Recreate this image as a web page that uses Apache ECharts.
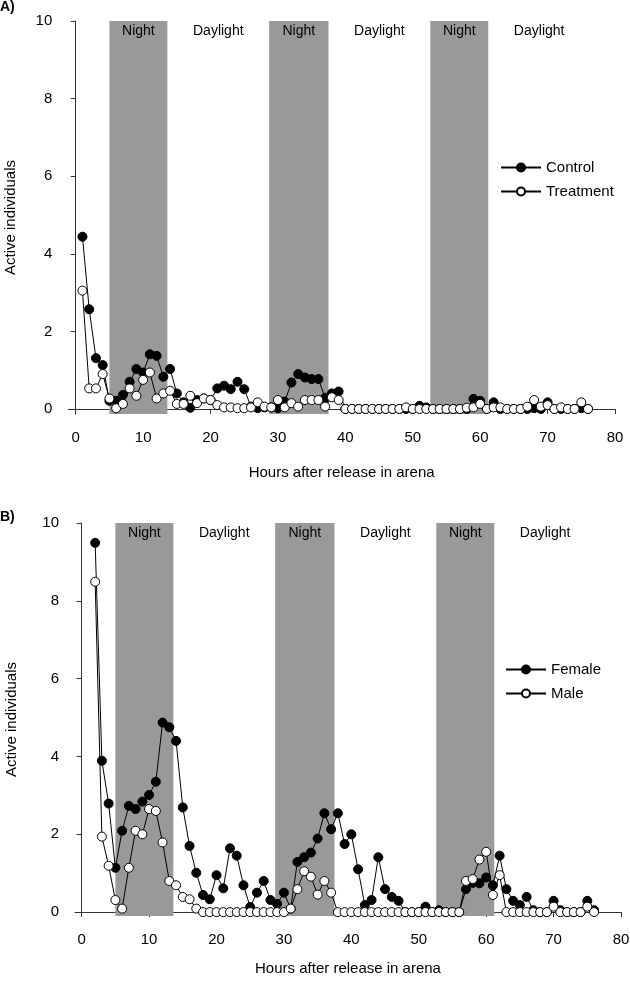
<!DOCTYPE html>
<html>
<head>
<meta charset="utf-8">
<script src="https://cdn.jsdelivr.net/npm/echarts@6/dist/echarts.min.js"></script>
<style>
html,body{margin:0;padding:0;background:#fff;}
#chart{width:630px;height:983px;}
</style>
</head>
<body>
<div id="chart"></div>
<script>
// ---- data ----
const hoursA = [1,2,3,4,5,6,7,8,9,10,11,12,13,14,15,16,17,18,19,20,21,22,23,24,25,26,27,28,29,30,31,32,33,34,35,36,37,38,39,40,41,42,43,44,45,46,47,48,49,50,51,52,53,54,55,56,57,58,59,60,61,62,63,64,65,66,67,68,69,70,71,72,73,74,75,76];
const controlA = [4.44,2.57,1.31,1.13,0.21,0.21,0.36,0.70,1.03,0.94,
  1.41,1.37,0.83,1.03,0.40,0.17,0.03,0.23,0.27,0.23,
  0.53,0.60,0.51,0.70,0.51,0.06,0.02,0.04,0.04,0.02,
  0.19,0.68,0.90,0.81,0.77,0.77,0.29,0.40,0.45,0,
  0,0,0,0,0,0,0,0,0,0,
  0.08,0.04,0,0,0,0,0,0,0.26,0.21,
  0,0.17,0,0,0,0,0,0.02,0,0.17,
  0,0,0,0,0.02,0];
const treatmentA = [3.05,0.53,0.53,0.90,0.27,0.02,0.13,0.53,0.34,0.75,
  0.94,0.27,0.40,0.47,0.13,0.13,0.34,0.15,0.27,0.23,
  0.10,0.04,0.04,0.02,0.02,0.04,0.17,0.06,0.04,0.23,
  0.04,0.15,0.06,0.23,0.23,0.23,0.06,0.30,0.23,0,
  0,0,0,0,0,0,0,0,0.04,0,
  0,0,0,0,0,0,0,0.03,0.04,0.13,
  0,0.04,0.04,0,0,0,0.06,0.23,0.06,0.10,
  0,0.04,0,0,0.17,0];

const hoursB = [2,3,4,5,6,7,8,9,10,11,12,13,14,15,16,17,18,19,20,21,22,23,24,25,26,27,28,29,30,31,32,33,34,35,36,37,38,39,40,41,42,43,44,45,46,47,48,49,50,51,52,53,54,55,56,57,58,59,60,61,62,63,64,65,66,67,68,69,70,71,72,73,74,75,76];
const femaleB = [9.49,3.89,2.79,1.14,2.09,2.73,2.65,2.84,3.01,
  3.35,4.87,4.75,4.40,2.69,1.70,1.01,0.44,0.33,0.95,
  0.61,1.64,1.45,0.69,0.13,0.50,0.80,0.31,0.21,0.50,
  0.09,1.29,1.41,1.53,1.89,2.54,2.13,2.54,1.75,2.00,
  1.10,0.18,0.31,1.41,0.59,0.39,0.29,0,0,0,
  0.14,0,0.05,0,0,0,0.59,0.75,0.74,0.89,
  0.69,1.45,0.59,0.29,0.18,0.39,0.05,0,0,0.29,
  0.05,0,0,0,0.29,0.05];
const maleB = [8.49,1.94,1.19,0.31,0.09,1.14,2.09,2.00,2.65,
  2.60,1.79,0.80,0.69,0.39,0.33,0.09,0,0,0,
  0,0,0,0,0,0,0,0,0,0,
  0.09,0.59,1.05,0.91,0.45,0.80,0.50,0,0,0,
  0,0,0,0,0,0,0,0,0,0,
  0,0,0,0,0,0,0.80,0.85,1.35,1.55,
  0.44,0.95,0,0,0,0,0,0,0,0.14,
  0,0,0,0,0.14,0];

const nightPeriods = [[5,13.6],[28.7,37.5],[52.6,61.2]];
const dayPeriods = [[13.6,28.7],[37.5,52.6],[61.2,76.3]];
const yTicks = [0,2,4,6,8,10];
const xTicks = [0,10,20,30,40,50,60,70,80];

// ---- chart ----
const FONT = 'Liberation Sans, Arial, sans-serif';
const pairs = (xs, ys) => xs.map((x, i) => [x, ys[i]]);

function bands() {
  const d = [];
  nightPeriods.forEach(p => d.push([{xAxis: p[0], name: 'Night'}, {xAxis: p[1]}]));
  dayPeriods.forEach(p => d.push([{xAxis: p[0], name: 'Daylight', itemStyle: {color: 'rgba(0,0,0,0)'}}, {xAxis: p[1]}]));
  return {
    silent: true,
    itemStyle: {color: '#999999'},
    label: {show: true, position: 'insideTop', distance: 3, color: '#000', fontSize: 14, fontFamily: FONT},
    data: d
  };
}

function xAx(gi, min, gap) {
  return {
    gridIndex: gi, type: 'value', min: min, max: 80,
    name: 'Hours after release in arena', nameLocation: 'middle', nameGap: gap,
    nameTextStyle: {fontSize: 15, fontFamily: FONT, color: '#000'},
    axisLine: {lineStyle: {color: '#333', width: 1}},
    axisTick: {show: true, length: 5, inside: false, customValues: xTicks, lineStyle: {color: '#333'}},
    axisLabel: {customValues: xTicks, margin: 16, fontSize: 15, fontFamily: FONT, color: '#000'},
    splitLine: {show: false}
  };
}
function yAx(gi, min, gap) {
  return {
    gridIndex: gi, type: 'value', min: min, max: 10,
    name: 'Active individuals', nameLocation: 'middle', nameGap: gap,
    nameTextStyle: {fontSize: 15, fontFamily: FONT, color: '#000'},
    axisLine: {show: true, lineStyle: {color: '#333', width: 1}},
    axisTick: {show: true, length: 5, inside: false, customValues: yTicks, lineStyle: {color: '#333'}},
    axisLabel: {customValues: yTicks, margin: 16, fontSize: 15, fontFamily: FONT, color: '#000'},
    splitLine: {show: false}
  };
}
function lineSeries(name, gi, data, filled, withBands) {
  const s = {
    name: name, type: 'line', xAxisIndex: gi, yAxisIndex: gi,
    data: data, symbol: 'circle', symbolSize: 9, showAllSymbol: true,
    clip: false,
    lineStyle: {color: '#000', width: 1},
    itemStyle: {color: filled ? '#000' : '#fff', borderColor: '#000', borderWidth: 1},
    emphasis: {disabled: true}
  };
  if (withBands) s.markArea = bands();
  return s;
}
function legendAt(names, left, top) {
  return {
    data: names, orient: 'vertical', left: left, top: top, padding: 0,
    itemWidth: 40, itemHeight: 10, itemGap: 9,
    textStyle: {fontSize: 15, lineHeight: 15, fontFamily: FONT, color: '#000'}
  };
}

const chart = echarts.init(document.getElementById('chart'), null, {renderer: 'canvas'});
chart.setOption({
  animation: false,
  backgroundColor: '#fff',
  title: [
    {text: 'A)', left: 0, top: 0, textStyle: {fontSize: 14, fontWeight: 'bold', fontFamily: FONT, color: '#000'}, padding: 0},
    {text: 'B)', left: 0, top: 510, textStyle: {fontSize: 14, fontWeight: 'bold', fontFamily: FONT, color: '#000'}, padding: 0}
  ],
  grid: [
    {left: 68.3, top: 21, width: 546.7, height: 393, outerBoundsMode: 'none', containLabel: false},
    {left: 75, top: 523, width: 546, height: 393, outerBoundsMode: 'none', containLabel: false}
  ],
  xAxis: [xAx(0, -1.1, 51), xAx(1, -0.99, 45)],
  yAxis: [yAx(0, -0.13, 50), yAx(1, -0.10, 56)],
  legend: [
    legendAt(['Control', 'Treatment'], 500, 160),
    legendAt(['Female', 'Male'], 505, 662)
  ],
  series: [
    lineSeries('Control', 0, pairs(hoursA, controlA), true, true),
    lineSeries('Treatment', 0, pairs(hoursA, treatmentA), false, false),
    lineSeries('Female', 1, pairs(hoursB, femaleB), true, true),
    lineSeries('Male', 1, pairs(hoursB, maleB), false, false)
  ]
});
</script>
</body>
</html>
